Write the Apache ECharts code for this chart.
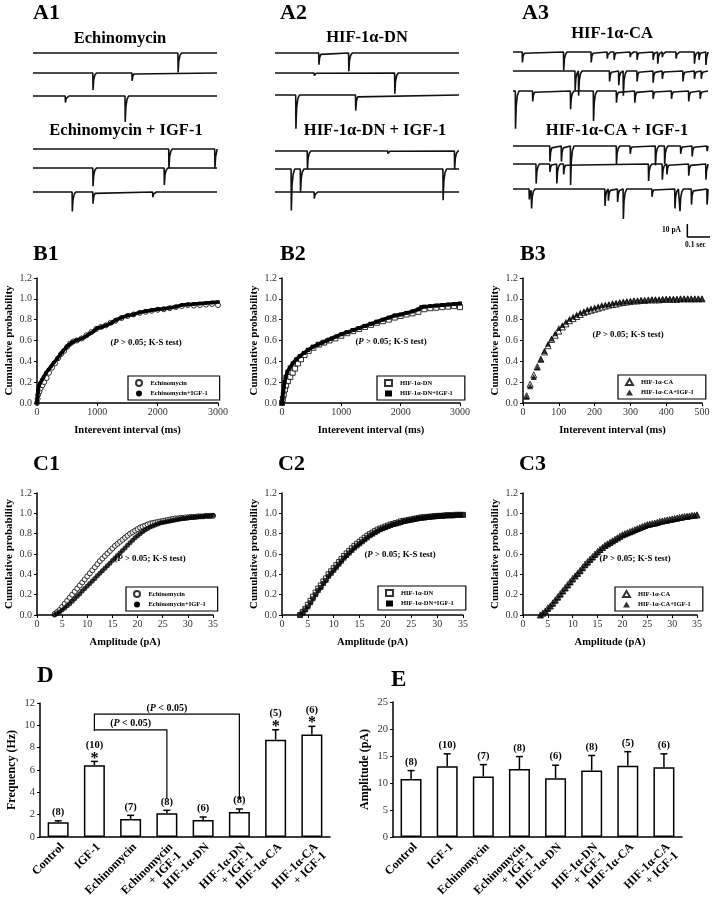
<!DOCTYPE html>
<html>
<head>
<meta charset="utf-8">
<script src="https://cdn.jsdelivr.net/npm/echarts@6/dist/echarts.min.js"></script>
<style>
  html, body { margin: 0; padding: 0; background: #fff; }
  #chart { width: 714px; height: 900px; }
</style>
</head>
<body>
<div id="chart"></div>
<script>
// ---- A: sample sweeps, events as [time (s), amplitude (pA)] ----
const a1Echino = [[[0.63, 15]], [[0.26, 13], [0.43, 6]], [[0.14, 5], [0.40, 20]]];
const a1EchinoIgf = [[[0.59, 15], [0.79, 15]], [[0.26, 14], [0.57, 13]], [[0.17, 15], [0.26, 9], [0.52, 4]]];
const a2Dn = [[[0.19, 9], [0.32, 14]], [[0.17, 2], [0.52, 16]], [[0.09, 26], [0.35, 12]]];
const a2DnIgf = [[[0.14, 14], [0.49, 2], [0.78, 14]], [[0.07, 32], [0.11, 18], [0.73, 24]], [[0.17, 5]]];
const a3Ca = [
  [[0.04, 8], [0.22, 14], [0.34, 8], [0.41, 5], [0.44, 6], [0.51, 4], [0.54, 6], [0.61, 6], [0.63, 9], [0.65, 4], [0.71, 5], [0.79, 9], [0.81, 6], [0.84, 10]],
  [[0.27, 15], [0.285, 19], [0.42, 8], [0.46, 11], [0.48, 19], [0.54, 8], [0.61, 9], [0.65, 6], [0.74, 8], [0.79, 6], [0.82, 6]],
  [[0.01, 29], [0.085, 8], [0.25, 14], [0.35, 23], [0.45, 9], [0.53, 9], [0.61, 6], [0.69, 6], [0.765, 8], [0.815, 6]]
];
const a3CaIgf = [
  [[0.16, 12], [0.21, 12], [0.25, 30], [0.45, 14], [0.51, 6], [0.62, 15], [0.66, 14], [0.73, 6], [0.78, 8], [0.845, 4]],
  [[0.10, 15], [0.16, 6], [0.19, 15], [0.22, 8], [0.59, 13], [0.65, 12], [0.67, 8], [0.765, 9], [0.84, 12]],
  [[0.07, 8], [0.08, 15], [0.40, 13], [0.415, 9], [0.455, 10], [0.48, 23], [0.605, 6], [0.705, 15], [0.727, 17], [0.777, 12], [0.845, 12]]
];
const scaleBarAmp = 10;   // pA
const scaleBarTime = 0.1; // s

// ---- B: cumulative interevent interval, [ms, probability] ----
const b1Echino = [[0,0.0],[10,0.04],[20,0.08],[40,0.11],[60,0.14],[90,0.17],[120,0.2],[160,0.24],[200,0.29],[250,0.34],[300,0.38],[350,0.43],[400,0.47],[450,0.5],[500,0.54],[550,0.57],[600,0.59],[660,0.6],[740,0.62],[820,0.65],[900,0.68],[980,0.71],[1060,0.73],[1140,0.745],[1220,0.77],[1300,0.79],[1400,0.815],[1500,0.835],[1600,0.85],[1700,0.865],[1800,0.875],[1900,0.885],[2000,0.895],[2100,0.9],[2200,0.91],[2300,0.92],[2400,0.93],[2500,0.94],[2600,0.935],[2700,0.94],[2800,0.945],[2900,0.95],[3000,0.94]];
const b1EchinoIgf = [[0,0.0],[5,0.03],[10,0.07],[15,0.1],[20,0.13],[30,0.16],[50,0.19],[80,0.22],[110,0.25],[150,0.29],[190,0.32],[230,0.35],[280,0.39],[330,0.42],[380,0.46],[430,0.5],[480,0.53],[530,0.56],[580,0.58],[640,0.6],[700,0.61],[780,0.63],[860,0.66],[940,0.69],[1000,0.72],[1080,0.73],[1160,0.75],[1240,0.77],[1320,0.8],[1400,0.82],[1500,0.84],[1600,0.85],[1700,0.87],[1800,0.88],[1900,0.89],[2000,0.9],[2100,0.905],[2200,0.915],[2300,0.925],[2400,0.94],[2500,0.945],[2600,0.95],[2700,0.955],[2800,0.96],[2900,0.965],[3000,0.97]];
const b2Dn = [[0,0.0],[15,0.04],[30,0.08],[50,0.13],[70,0.17],[100,0.21],[140,0.25],[180,0.29],[220,0.33],[270,0.38],[320,0.42],[380,0.46],[450,0.5],[530,0.53],[620,0.56],[710,0.58],[800,0.6],[900,0.62],[1000,0.645],[1100,0.67],[1200,0.69],[1300,0.71],[1400,0.73],[1500,0.75],[1600,0.77],[1700,0.785],[1800,0.8],[1900,0.82],[2000,0.835],[2100,0.85],[2200,0.86],[2300,0.875],[2400,0.9],[2500,0.91],[2600,0.915],[2700,0.92],[2800,0.925],[2900,0.93],[3000,0.92]];
const b2DnIgf = [[0,0.0],[10,0.05],[20,0.1],[30,0.15],[45,0.2],[60,0.25],[90,0.3],[130,0.34],[180,0.38],[240,0.42],[300,0.45],[370,0.48],[440,0.51],[520,0.54],[600,0.56],[680,0.58],[760,0.6],[840,0.62],[920,0.64],[1000,0.66],[1100,0.68],[1200,0.7],[1300,0.72],[1400,0.74],[1500,0.76],[1600,0.78],[1700,0.8],[1800,0.82],[1900,0.84],[2000,0.85],[2100,0.865],[2200,0.88],[2300,0.9],[2350,0.92],[2400,0.925],[2500,0.93],[2600,0.935],[2700,0.94],[2800,0.945],[2900,0.95],[3000,0.955]];
const b3Intervals = [10,20,30,40,50,60,70,80,90,100,110,120,130,140,150,160,170,180,190,200,210,220,230,240,250,260,270,280,290,300,310,320,330,340,350,360,370,380,390,400,410,420,430,440,450,460,470,480,490,500];
const b3Ca = [0.07,0.18,0.27,0.35,0.42,0.49,0.55,0.61,0.65,0.69, 0.73,0.76,0.79,0.81,0.83,0.85,0.87,0.88,0.89,0.90, 0.91,0.92,0.93,0.94,0.945,0.95,0.96,0.965,0.97,0.975, 0.98,0.98,0.985,0.985,0.99,0.99,0.99,0.99,0.995,0.995, 0.995,0.995,0.995,1.0,1.0,1.0,1.0,1.0,1.0,1.0];
const b3CaIgf = [0.06,0.16,0.25,0.34,0.42,0.50,0.57,0.62,0.67,0.72, 0.75,0.78,0.81,0.83,0.85,0.87,0.88,0.90,0.91,0.92, 0.93,0.94,0.945,0.95,0.96,0.965,0.97,0.975,0.98,0.98, 0.985,0.985,0.99,0.99,0.99,0.995,0.995,0.995,0.995,1.0, 1.0,1.0,1.0,1.0,1.0,1.0,1.0,1.0,1.0,1.0];

// ---- C: cumulative amplitude, probability at each amplitude (pA) ----
const cAmps = [3.5,4,4.5,5,5.5,6,6.5,7,7.5,8,8.5,9,9.5,10,10.5,11,11.5,12,12.5,13,13.5,14,14.5,15,15.5,16,16.5,17,17.5,18,18.5,19,19.5,20,20.5,21,21.5,22,22.5,23,23.5,24,24.5,25,25.5,26,26.5,27,27.5,28,28.5,29,29.5,30,30.5,31,31.5,32,32.5,33,33.5,34,34.5,35];
const c1Echino = [0.01,0.03,0.05,0.08,0.11,0.14,0.17,0.20,0.23,0.26, 0.29,0.32,0.35,0.38,0.41,0.44,0.47,0.50,0.53,0.555, 0.58,0.605,0.63,0.655,0.68,0.70,0.72,0.74,0.76,0.78, 0.80,0.815,0.83,0.845,0.86,0.87,0.88,0.89,0.90,0.905, 0.91,0.915,0.92,0.925,0.93,0.935,0.94,0.945,0.95,0.95, 0.955,0.955,0.96,0.96,0.965,0.965,0.965,0.97,0.97,0.97, 0.975,0.975,0.975,0.975];
const c1EchinoIgf = [0.0,0.015,0.03,0.05,0.07,0.09,0.11,0.135,0.16,0.185, 0.21,0.235,0.26,0.285,0.31,0.335,0.36,0.385,0.41,0.435, 0.46,0.485,0.51,0.535,0.56,0.585,0.61,0.635,0.66,0.685, 0.71,0.735,0.76,0.78,0.80,0.82,0.835,0.85,0.865,0.875, 0.885,0.895,0.905,0.91,0.915,0.92,0.925,0.93,0.935,0.94, 0.945,0.95,0.95,0.955,0.96,0.96,0.965,0.965,0.97,0.97, 0.975,0.975,0.975,0.98];
const c2Dn = [0.0,0.03,0.06,0.10,0.14,0.18,0.22,0.26,0.29,0.33, 0.36,0.40,0.43,0.46,0.49,0.52,0.55,0.58,0.605,0.63, 0.655,0.68,0.70,0.72,0.74,0.76,0.78,0.795,0.81,0.825, 0.84,0.85,0.86,0.87,0.88,0.89,0.895,0.905,0.91,0.92, 0.925,0.93,0.935,0.94,0.945,0.95,0.955,0.96,0.96,0.965, 0.965,0.97,0.97,0.975,0.975,0.975,0.98,0.98,0.98,0.98, 0.985,0.985,0.985,0.985];
const c2DnIgf = [0.0,0.02,0.05,0.08,0.12,0.16,0.20,0.24,0.27,0.31, 0.34,0.38,0.41,0.44,0.47,0.50,0.53,0.56,0.585,0.61, 0.635,0.66,0.68,0.70,0.72,0.74,0.76,0.78,0.795,0.81, 0.825,0.84,0.85,0.86,0.87,0.88,0.89,0.895,0.905,0.91, 0.92,0.925,0.93,0.935,0.94,0.945,0.95,0.955,0.955,0.96, 0.965,0.965,0.97,0.97,0.975,0.975,0.975,0.98,0.98,0.98, 0.98,0.985,0.985,0.985];
const c3Ca = [0.0,0.02,0.04,0.07,0.09,0.12,0.15,0.18,0.21,0.24, 0.27,0.30,0.33,0.36,0.385,0.41,0.44,0.47,0.50,0.525, 0.55,0.575,0.60,0.625,0.645,0.665,0.685,0.70,0.715,0.73, 0.745,0.76,0.775,0.79,0.80,0.81,0.82,0.83,0.84,0.85, 0.86,0.87,0.88,0.89,0.895,0.90,0.905,0.91,0.92,0.925, 0.93,0.935,0.94,0.945,0.95,0.955,0.96,0.965,0.97,0.97, 0.975,0.98,0.98,0.985];
const c3CaIgf = [0.0,0.015,0.035,0.06,0.085,0.11,0.14,0.17,0.20,0.23, 0.26,0.29,0.32,0.35,0.38,0.405,0.43,0.46,0.49,0.515, 0.54,0.565,0.59,0.615,0.64,0.66,0.68,0.695,0.71,0.725, 0.74,0.755,0.77,0.785,0.795,0.805,0.815,0.825,0.835,0.845, 0.855,0.865,0.875,0.885,0.89,0.895,0.90,0.905,0.915,0.92, 0.925,0.93,0.935,0.94,0.945,0.95,0.955,0.96,0.965,0.97, 0.975,0.975,0.98,0.985];

// ---- D / E: group means ----
const groups = ['Control', 'IGF-1', 'Echinomycin', 'Echinomycin\n+ IGF-1', 'HIF-1α-DN', 'HIF-1α-DN\n+ IGF-1', 'HIF-1α-CA', 'HIF-1α-CA\n+ IGF-1'];
const nCells = [8, 10, 7, 8, 6, 8, 5, 6];
const freqMean = [1.31, 6.42, 1.61, 2.12, 1.52, 2.24, 8.72, 9.19];
const freqSem = [0.14, 0.35, 0.33, 0.27, 0.27, 0.27, 0.88, 0.72];
const freqSig = [0, 1, 0, 0, 0, 0, 1, 1];
const ampMean = [10.75, 13.1, 11.2, 12.6, 10.9, 12.3, 13.2, 12.9];
const ampSem = [1.55, 2.3, 2.2, 2.3, 2.4, 2.8, 2.6, 2.5];

const serif = '"Liberation Serif", "DejaVu Serif", serif';
const chart = echarts.init(document.getElementById('chart'));

const grids = [
  { left: 33, top: 40, width: 184, height: 200 },   // A1
  { left: 275, top: 40, width: 184, height: 200 },  // A2
  { left: 513, top: 40, width: 195, height: 200 },  // A3
  { left: 37, top: 278, width: 181, height: 125 },  // B1
  { left: 282, top: 278, width: 178, height: 125 }, // B2
  { left: 523, top: 278, width: 179, height: 125 }, // B3
  { left: 37, top: 493, width: 176, height: 122 },  // C1
  { left: 282, top: 493, width: 181, height: 122 }, // C2
  { left: 523, top: 493, width: 174, height: 122 }, // C3
  { left: 40, top: 703, width: 290, height: 134 },  // D
  { left: 393, top: 702, width: 289, height: 135 }  // E
].map(g => Object.assign({ containLabel: false, outerBoundsMode: 'none' }, g));

const xAxes = [];
const yAxes = [];
const series = [];

// trace panels: y in pA, 1.3 px per pA
const pxPerPa = 1.3;
const traceYmin = -200 / pxPerPa;
[0.8, 0.8, 0.85].forEach((dur, gi) => {
  xAxes.push({ gridIndex: gi, type: 'value', min: 0, max: dur, show: false });
  yAxes.push({ gridIndex: gi, type: 'value', min: traceYmin, max: 0, show: false });
});
const baseOf = py => -(py - 40) / pxPerPa;

function sweep(events, base, dur) {
  const pts = [[0, base]];
  const ev = events.slice().sort((a, b) => a[0] - b[0]);
  ev.forEach(([t, a], k) => {
    const next = k + 1 < ev.length ? ev[k + 1][0] : dur;
    [[t, base], [t + 0.001, base - a], [t + 0.004, base - 0.4 * a],
     [t + 0.009, base - 0.12 * a], [t + 0.016, base]]
      .forEach(p => { if (p[0] < next) pts.push(p); });
  });
  pts.push([dur, base]);
  return pts;
}
function addSweeps(gi, sweeps, rows, dur) {
  sweeps.forEach((ev, k) => {
    series.push({
      type: 'line', xAxisIndex: gi, yAxisIndex: gi, data: sweep(ev, baseOf(rows[k]), dur),
      symbol: 'none', silent: true, lineStyle: { color: '#111', width: 1.6 }
    });
  });
}
addSweeps(0, a1Echino, [53, 73, 96], 0.8);
addSweeps(0, a1EchinoIgf, [149, 168, 192], 0.8);
addSweeps(1, a2Dn, [53, 73, 95], 0.8);
addSweeps(1, a2DnIgf, [151, 169, 192], 0.8);
addSweeps(2, a3Ca, [52, 71, 91], 0.85);
addSweeps(2, a3CaIgf, [146, 164, 189], 0.85);
// scale bar
const sbX = 0.76, sbY = baseOf(237);
series.push({
  type: 'line', xAxisIndex: 2, yAxisIndex: 2, symbol: 'none', clip: false, silent: true,
  lineStyle: { color: '#000', width: 1.5 },
  data: [[sbX, sbY + scaleBarAmp], [sbX, sbY], [sbX + scaleBarTime, sbY]]
});

// cumulative probability panels
const axisLineStyle = { color: '#000', width: 1.5 };
function probAxes(gi, max, interval, name) {
  xAxes.push({
    gridIndex: gi, type: 'value', min: 0, max, interval, name,
    nameLocation: 'middle', nameGap: 22,
    nameTextStyle: { fontFamily: serif, fontWeight: 'bold', fontSize: 10.5, color: '#000' },
    axisLine: { lineStyle: axisLineStyle },
    axisTick: { show: true, length: 3, lineStyle: { color: '#000' } },
    axisLabel: { fontFamily: serif, fontSize: 10, color: '#333', margin: 4, formatter: v => String(v) },
    splitLine: { show: false }
  });
  yAxes.push({
    gridIndex: gi, type: 'value', min: 0, max: 1.2, interval: 0.2,
    name: 'Cumulative probability', nameLocation: 'middle', nameGap: 22,
    nameTextStyle: { fontFamily: serif, fontWeight: 'bold', fontSize: 11, color: '#000' },
    axisLine: { show: true, lineStyle: axisLineStyle },
    axisTick: { show: true, length: 3, lineStyle: { color: '#000' } },
    axisLabel: { fontFamily: serif, fontSize: 10, color: '#333', margin: 5, formatter: v => v.toFixed(1) },
    splitLine: { show: false }
  });
}
probAxes(3, 3000, 1000, 'Interevent interval (ms)');
probAxes(4, 3000, 1000, 'Interevent interval (ms)');
probAxes(5, 500, 100, 'Interevent interval (ms)');
probAxes(6, 35, 5, 'Amplitude (pA)');
probAxes(7, 35, 5, 'Amplitude (pA)');
probAxes(8, 35, 5, 'Amplitude (pA)');

const openStyle = { color: '#fff', borderColor: '#000', borderWidth: 1 };
const fillStyle = { color: '#000' };
const zip = (xs, ys) => xs.map((x, i) => [x, ys[i]]);

function openScatter(gi, name, sym, data, size) {
  series.push({ type: 'scatter', name, xAxisIndex: gi, yAxisIndex: gi, symbol: sym, symbolSize: size,
    itemStyle: openStyle, data, silent: true });
}
function fillScatter(gi, name, sym, data, size) {
  series.push({ type: 'scatter', name, xAxisIndex: gi, yAxisIndex: gi, symbol: sym, symbolSize: size,
    itemStyle: fillStyle, data, silent: true });
}
function fillBand(gi, name, sym, data) {
  series.push({ type: 'line', name, xAxisIndex: gi, yAxisIndex: gi, symbol: sym, symbolSize: 4,
    showAllSymbol: true, itemStyle: fillStyle, lineStyle: { color: '#000', width: 3.5 }, data, silent: true });
}

openScatter(3, 'Echinomycin', 'circle', b1Echino, 5);
fillBand(3, 'Echinomycin+IGF-1', 'circle', b1EchinoIgf);
openScatter(4, 'HIF-1α-DN', 'rect', b2Dn, 5);
fillBand(4, 'HIF-1α-DN+IGF-1', 'rect', b2DnIgf);
openScatter(5, 'HIF-1α-CA', 'triangle', zip(b3Intervals, b3Ca), 6);
fillScatter(5, 'HIF-1α-CA+IGF-1', 'triangle', zip(b3Intervals, b3CaIgf), 6);

openScatter(6, 'Echinomycin', 'circle', zip(cAmps, c1Echino), 5);
fillScatter(6, 'Echinomycin+IGF-1', 'circle', zip(cAmps, c1EchinoIgf), 5);
openScatter(7, 'HIF-1α-DN', 'rect', zip(cAmps, c2Dn), 5);
fillScatter(7, 'HIF-1α-DN+IGF-1', 'rect', zip(cAmps, c2DnIgf), 5);
openScatter(8, 'HIF-1α-CA', 'triangle', zip(cAmps, c3Ca), 6);
fillScatter(8, 'HIF-1α-CA+IGF-1', 'triangle', zip(cAmps, c3CaIgf), 6);

// bar panels
function barAxes(gi, max, interval, name, gap) {
  xAxes.push({
    gridIndex: gi, type: 'category', data: groups,
    axisLine: { lineStyle: axisLineStyle }, axisTick: { show: false },
    axisLabel: { interval: 0, rotate: 45, fontFamily: serif, fontWeight: 'bold', fontSize: 12,
      color: '#000', margin: 4, lineHeight: 12, verticalAlign: 'top' }
  });
  yAxes.push({
    gridIndex: gi, type: 'value', min: 0, max, interval, name,
    nameLocation: 'middle', nameGap: gap,
    nameTextStyle: { fontFamily: serif, fontWeight: 'bold', fontSize: 12, color: '#000' },
    axisLine: { show: true, lineStyle: axisLineStyle },
    axisTick: { show: true, length: 3, lineStyle: { color: '#000' } },
    axisLabel: { fontFamily: serif, fontSize: 10.5, color: '#333', margin: 5 },
    splitLine: { show: false }
  });
}
barAxes(9, 12, 2, 'Frequency (Hz)', 22);
barAxes(10, 25, 5, 'Amplitude (pA)', 22);

function errSeries(gi, means, sems, sig) {
  series.push({
    type: 'bar', xAxisIndex: gi, yAxisIndex: gi, data: means, barWidth: 21, silent: true,
    itemStyle: { color: '#fff', borderColor: '#000', borderWidth: 1.5 }
  });
  series.push({
    type: 'custom', xAxisIndex: gi, yAxisIndex: gi, silent: true, z: 5,
    encode: { x: 0, y: 1 },
    data: means.map((v, i) => [i, v, sems[i], nCells[i], sig ? sig[i] : 0]),
    renderItem: (params, api) => {
      const i = api.value(0), v = api.value(1), e = api.value(2);
      const n = api.value(3), s = api.value(4);
      const p0 = api.coord([i, v]);
      const p1 = api.coord([i, v + e]);
      const ln = { stroke: '#000', lineWidth: 1.5 };
      const kids = [
        { type: 'line', shape: { x1: p0[0], y1: p0[1], x2: p1[0], y2: p1[1] }, style: ln },
        { type: 'line', shape: { x1: p1[0] - 3.5, y1: p1[1], x2: p1[0] + 3.5, y2: p1[1] }, style: ln },
        { type: 'text', x: p1[0], y: p1[1] - (s ? 16.5 : 8.5),
          style: { text: '(' + n + ')', fontFamily: serif, fontWeight: 'bold', fontSize: 10.5,
            fill: '#000', align: 'center', verticalAlign: 'middle' } }
      ];
      if (s) {
        kids.push({ type: 'text', x: p1[0], y: p1[1] - 3,
          style: { text: '*', fontFamily: serif, fontWeight: 'bold', fontSize: 16,
            fill: '#000', align: 'center', verticalAlign: 'middle' } });
      }
      return { type: 'group', children: kids };
    }
  });
}
errSeries(9, freqMean, freqSem, freqSig);
errSeries(10, ampMean, ampSem, null);

// significance brackets in D: [from group, to group, level (Hz)]
const brackets = [[1, 3, 9.6], [1, 5, 11.0]];
series.push({
  type: 'custom', xAxisIndex: 9, yAxisIndex: 9, silent: true, z: 6,
  encode: { x: 0, y: 2 },
  data: brackets,
  renderItem: (params, api) => {
    const a = api.value(0), b = api.value(1), lv = api.value(2);
    const pts = [api.coord([a, 9.5]), api.coord([a, lv]), api.coord([b, lv]), api.coord([b, 3.4])];
    const mid = api.coord([(a + b) / 2, lv]);
    return {
      type: 'group', children: [
        { type: 'polyline', shape: { points: pts }, style: { stroke: '#000', lineWidth: 1.2, fill: null } },
        { type: 'text', x: mid[0], y: mid[1] - 6,
          style: { text: '({i|P} < 0.05)', fontFamily: serif, fontWeight: 'bold', fontSize: 10,
            fill: '#000', align: 'center', verticalAlign: 'middle',
            rich: { i: { fontFamily: serif, fontWeight: 'bold', fontStyle: 'italic', fontSize: 10 } } } }
      ]
    };
  }
});

// texts
const titles = [];
function txt(text, x, y, size, align) {
  titles.push({
    text, left: x, top: y, padding: 0, textAlign: align || 'left',
    textStyle: { fontFamily: serif, fontWeight: 'bold', fontSize: size, color: '#000' }
  });
}
txt('A1', 33, 2, 22); txt('A2', 280, 2, 22); txt('A3', 522, 2, 22);
txt('B1', 33, 243, 22); txt('B2', 280, 243, 22); txt('B3', 520, 243, 22);
txt('C1', 33, 453, 22); txt('C2', 278, 453, 22); txt('C3', 519, 453, 22);
txt('D', 37, 665, 23); txt('E', 391, 669, 23);
txt('Echinomycin', 120, 30, 16.5, 'center');
txt('Echinomycin + IGF-1', 126, 122, 16.5, 'center');
txt('HIF-1α-DN', 367, 29, 16.5, 'center');
txt('HIF-1α-DN + IGF-1', 375, 122, 16.5, 'center');
txt('HIF-1α-CA', 612, 25, 16.5, 'center');
txt('HIF-1α-CA + IGF-1', 617, 122, 16.5, 'center');
txt('10 pA', 681, 226, 7.5, 'right');
txt('0.1 sec', 685, 241, 7.5, 'left');
const ks = '({i|P} > 0.05; K-S test)';
const ksRich = { i: { fontFamily: serif, fontWeight: 'bold', fontStyle: 'italic', fontSize: 8.8 } };
[[146, 338], [391, 337], [628, 330], [150, 554], [400, 550], [635, 554]].forEach(p => {
  titles.push({ text: ks, left: p[0], top: p[1], padding: 0, textAlign: 'center',
    textStyle: { fontFamily: serif, fontWeight: 'bold', fontSize: 8.8, color: '#000', rich: ksRich } });
});

// legends
function leg(x, y, names, icons) {
  return {
    left: x, top: y, orient: 'vertical', selectedMode: false,
    itemWidth: 7, itemHeight: 6, itemGap: 3, padding: [3, 12, 3, 7],
    borderColor: '#000', borderWidth: 1.2, backgroundColor: '#fff',
    textStyle: { fontFamily: serif, fontWeight: 'bold', fontSize: 6.5, color: '#000', padding: [0, 0, 0, 3] },
    data: names.map((n, i) => ({ name: n, icon: icons[i] }))
  };
}
const legends = [
  leg(128, 376, ['Echinomycin', 'Echinomycin+IGF-1'], ['circle', 'circle']),
  leg(377, 376, ['HIF-1α-DN', 'HIF-1α-DN+IGF-1'], ['rect', 'rect']),
  leg(618, 375, ['HIF-1α-CA', 'HIF-1α-CA+IGF-1'], ['triangle', 'triangle']),
  leg(126, 587, ['Echinomycin', 'Echinomycin+IGF-1'], ['circle', 'circle']),
  leg(378, 586, ['HIF-1α-DN', 'HIF-1α-DN+IGF-1'], ['rect', 'rect']),
  leg(615, 587, ['HIF-1α-CA', 'HIF-1α-CA+IGF-1'], ['triangle', 'triangle'])
];

chart.setOption({
  animation: false,
  backgroundColor: '#fff',
  title: titles,
  legend: legends,
  grid: grids,
  xAxis: xAxes,
  yAxis: yAxes,
  series
});
</script>
</body>
</html>
